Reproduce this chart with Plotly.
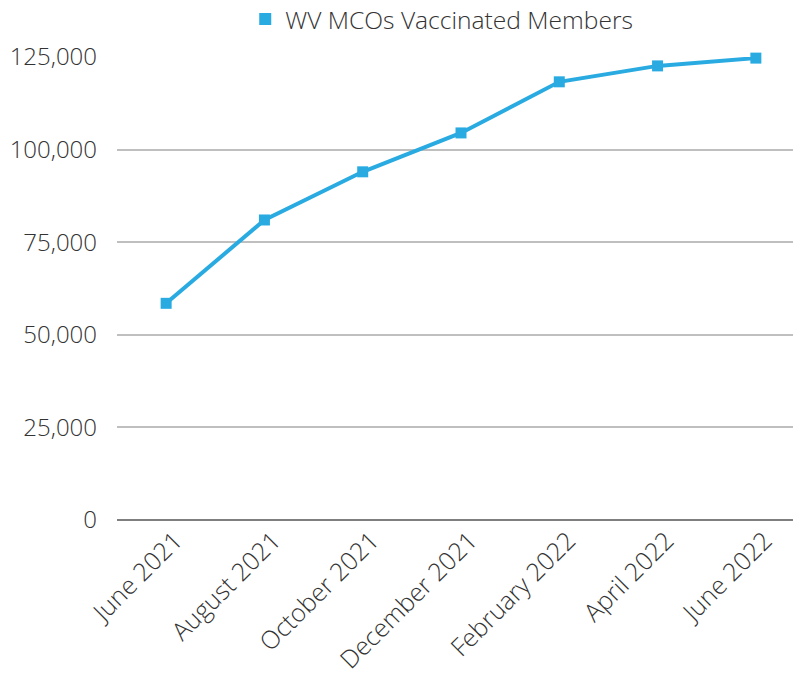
import plotly.graph_objects as go

categories = ["June 2021", "August 2021", "October 2021", "December 2021",
              "February 2022", "April 2022", "June 2022"]
vaccinated = [58500, 81000, 94000, 104500, 118300, 122600, 124700]
series_name = "WV MCOs Vaccinated Members"
y_ticks = [0, 25000, 50000, 75000, 100000, 125000]
y_tick_labels = ["0", "25,000", "50,000", "75,000", "100,000", "125,000"]

color = "#29ABE2"
font_family = "Open Sans"
text_color = "#333333"
fsize = 24

fig = go.Figure()
fig.add_trace(go.Scatter(
    x=categories, y=vaccinated, name=series_name, mode="lines+markers",
    line=dict(color=color, width=4),
    marker=dict(symbol="square", size=11, color=color),
    cliponaxis=False, showlegend=False,
))
# legend-only entry showing just the square marker
fig.add_trace(go.Scatter(
    x=[None], y=[None], name=series_name, mode="markers",
    marker=dict(symbol="square", size=12, color=color), showlegend=True,
))

fig.update_layout(
    width=801, height=679,
    margin=dict(l=109, r=4, t=49, b=167, autoexpand=False),
    paper_bgcolor="white", plot_bgcolor="white",
    font=dict(family=font_family, size=fsize, color=text_color, weight=300),
    showlegend=True,
    legend=dict(orientation="h", x=0.472, xanchor="center", y=1.082, yanchor="middle",
                yref="paper", font=dict(size=24.6, color=text_color, weight=300),
                bgcolor="rgba(0,0,0,0)", itemwidth=30),
    xaxis=dict(type="category", range=[-0.5, 6.5], tickangle=-45,
               showgrid=False, showline=False, zeroline=False,
               ticklabelshift=9,
               tickfont=dict(size=25, color=text_color, weight=300)),
    yaxis=dict(range=[0, 125000], tickvals=y_ticks, ticktext=y_tick_labels,
               showgrid=True, gridcolor="#BFBFBF", gridwidth=2,
               zeroline=True, zerolinecolor="#7F7F7F", zerolinewidth=2,
               showline=False, ticklabelstandoff=19,
               tickfont=dict(size=fsize, color=text_color, weight=300)),
)

fig.write_html("out.html")
